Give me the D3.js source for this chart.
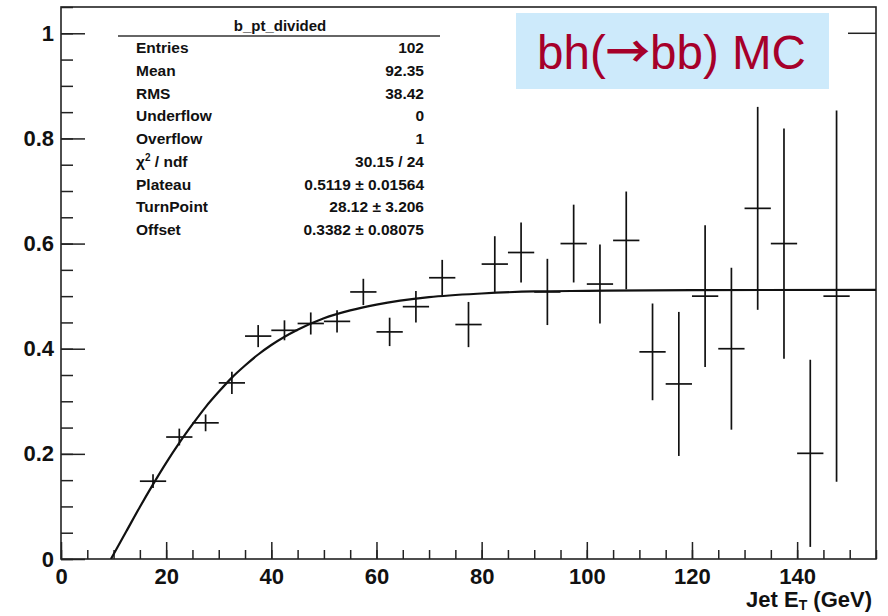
<!DOCTYPE html>
<html>
<head>
<meta charset="utf-8">
<script src="https://cdn.jsdelivr.net/npm/d3@7"></script>
<style>
  html, body { margin: 0; padding: 0; background: #fff; }
  svg { display: block; font-family: "Liberation Sans", Arial, sans-serif; }
</style>
</head>
<body>
<svg id="chart" width="888" height="616"></svg>
<script>
// ---- data ----
const binCenters = [17.5, 22.5, 27.5, 32.5, 37.5, 42.5, 47.5, 52.5, 57.5, 62.5, 67.5, 72.5, 77.5, 82.5, 87.5, 92.5, 97.5, 102.5, 107.5, 112.5, 117.5, 122.5, 127.5, 132.5, 137.5, 142.5, 147.5];
const efficiency = [0.148, 0.232, 0.259, 0.335, 0.424, 0.435, 0.448, 0.452, 0.508, 0.432, 0.480, 0.535, 0.446, 0.561, 0.583, 0.508, 0.600, 0.523, 0.606, 0.394, 0.333, 0.500, 0.400, 0.667, 0.600, 0.201, 0.500];
const effError = [0.013, 0.016, 0.016, 0.021, 0.021, 0.019, 0.021, 0.021, 0.025, 0.027, 0.030, 0.034, 0.043, 0.053, 0.057, 0.063, 0.074, 0.075, 0.093, 0.092, 0.137, 0.135, 0.154, 0.193, 0.219, 0.178, 0.353];
const binHalfWidth = 2.5;

// fit curve
const fitX = [9.5, 10, 12.5, 15, 17.5, 20, 22.5, 25, 27.5, 30, 32.5, 35, 37.5, 40, 45, 50, 55, 60, 70, 80, 90, 100, 120, 155];
const fitY = [0.0, 0.009, 0.054, 0.099, 0.142, 0.183, 0.221, 0.256, 0.289, 0.318, 0.345, 0.368, 0.389, 0.407, 0.436, 0.458, 0.473, 0.484, 0.498, 0.505, 0.509, 0.510, 0.5115, 0.5119];

const xMajorTicks = [0, 20, 40, 60, 80, 100, 120, 140];
const xMinorTicks = d3.range(0, 156, 5);
const yMajorTicks = [0, 0.2, 0.4, 0.6, 0.8, 1];
const yMinorTicks = d3.range(0, 1.051, 0.05);

const statsTitle = "b_pt_divided";
const statsLabels = ["Entries", "Mean", "RMS", "Underflow", "Overflow", "χ2 / ndf", "Plateau", "TurnPoint", "Offset"];
const statsValues = ["102", "92.35", "38.42", "0", "1", "30.15 / 24", "0.5119 ± 0.01564", "28.12 ± 3.206", "0.3382 ± 0.08075"];

const xTitle = ["Jet E", "T", " (GeV)"];
const sampleLabel = ["bh(", "→", "bb) MC"];

// ---- layout ----
const svg = d3.select("#chart");
const L = 61, T = 7, R = 876, B = 559;
const x = d3.scaleLinear().domain([0, 155]).range([L, R]);
const y = d3.scaleLinear().domain([0, 1.05]).range([B, T]);

svg.append("defs").append("clipPath").attr("id", "clip")
  .append("rect").attr("x", L).attr("y", T).attr("width", R - L).attr("height", B - T);

// minor ticks
const gx = svg.append("g").attr("transform", `translate(0,${B})`);
gx.call(d3.axisBottom(x).tickValues(xMinorTicks).tickSize(-9).tickFormat(""));
gx.select(".domain").remove();
const gx2 = svg.append("g").attr("transform", `translate(0,${B})`);
gx2.call(d3.axisBottom(x).tickValues(xMajorTicks).tickSizeInner(-17).tickSizeOuter(0).tickPadding(9).tickFormat(d3.format("~g")));
gx2.select(".domain").remove();

const gy = svg.append("g").attr("transform", `translate(${L},0)`);
gy.call(d3.axisLeft(y).tickValues(yMinorTicks).tickSize(-12).tickFormat(""));
gy.select(".domain").remove();
const gy2 = svg.append("g").attr("transform", `translate(${L},0)`);
gy2.call(d3.axisLeft(y).tickValues(yMajorTicks).tickSizeInner(-24).tickSizeOuter(0).tickPadding(7).tickFormat(d3.format("~g")));
gy2.select(".domain").remove();

svg.selectAll(".tick line").attr("stroke", "#222").attr("stroke-width", 1.5);
svg.selectAll(".tick text").attr("font-family", "'Liberation Sans', Arial, sans-serif")
  .attr("font-weight", "bold").attr("font-size", 22).attr("fill", "#111");

// right-side tick at y = 1
svg.append("line").attr("x1", R - 28).attr("x2", R).attr("y1", y(1)).attr("y2", y(1))
  .attr("stroke", "#222").attr("stroke-width", 1.5);

// frame
svg.append("rect").attr("x", L).attr("y", T).attr("width", R - L).attr("height", B - T)
  .attr("fill", "none").attr("stroke", "#222").attr("stroke-width", 1.6);

// stats box
const sb = svg.append("g");
sb.append("text").attr("x", 280).attr("y", 31).attr("text-anchor", "middle")
  .attr("font-size", 15).attr("font-weight", "bold").attr("fill", "#111").text(statsTitle);
sb.append("line").attr("x1", 118).attr("x2", 440).attr("y1", 36).attr("y2", 36)
  .attr("stroke", "#333").attr("stroke-width", 1.4);
statsLabels.forEach((lab, i) => {
  const yy = 53 + i * 22.75;
  const t = sb.append("text").attr("x", 136).attr("y", yy)
    .attr("font-size", 15.5).attr("font-weight", "bold").attr("fill", "#111");
  if (lab.startsWith("χ2")) {
    t.append("tspan").text("χ");
    t.append("tspan").attr("dy", -6).attr("font-size", 10).text("2");
    t.append("tspan").attr("dy", 6).text(" / ndf");
  } else {
    t.text(lab);
  }
  sb.append("text").attr("x", 424).attr("y", yy).attr("text-anchor", "end")
    .attr("font-size", 15.5).attr("font-weight", "bold").attr("fill", "#111").text(statsValues[i]);
});

// error bars (data)
const pts = binCenters.map((c, i) => ({ c, v: efficiency[i], e: effError[i] }));
const marks = svg.append("g").attr("clip-path", "url(#clip)")
  .attr("stroke", "#111").attr("stroke-width", 1.7).attr("fill", "none");
marks.selectAll("line.h").data(pts).join("line").attr("class", "h")
  .attr("x1", d => x(d.c - binHalfWidth)).attr("x2", d => x(d.c + binHalfWidth))
  .attr("y1", d => y(d.v)).attr("y2", d => y(d.v));
marks.selectAll("line.v").data(pts).join("line").attr("class", "v")
  .attr("x1", d => x(d.c)).attr("x2", d => x(d.c))
  .attr("y1", d => y(d.v - d.e)).attr("y2", d => y(d.v + d.e));

// fit curve
const fitPts = fitX.map((v, i) => [v, fitY[i]]);
svg.append("path").attr("clip-path", "url(#clip)")
  .datum(fitPts)
  .attr("d", d3.line().x(d => x(d[0])).y(d => y(d[1])).curve(d3.curveMonotoneX))
  .attr("fill", "none").attr("stroke", "#111").attr("stroke-width", 2.2);

// axis title
const xt = svg.append("text").attr("x", 872).attr("y", 607).attr("text-anchor", "end")
  .attr("font-size", 22).attr("font-weight", "bold").attr("fill", "#111");
xt.append("tspan").text(xTitle[0]);
xt.append("tspan").attr("dy", 3).attr("font-size", 14).text(xTitle[1]);
xt.append("tspan").attr("dy", -3).text(xTitle[2]);

// sample label box
svg.append("rect").attr("x", 516).attr("y", 13).attr("width", 313).attr("height", 76).attr("fill", "#cdeafb");
const lbl = svg.append("text").attr("x", 537).attr("y", 69)
  .attr("font-family", "'Liberation Sans', Arial, sans-serif")
  .attr("font-size", 43).attr("fill", "#a6002a");
lbl.append("tspan").text(sampleLabel[0]);
lbl.append("tspan").attr("font-family", "'Noto Sans CJK SC', 'DejaVu Sans', sans-serif")
  .attr("font-weight", "bold").attr("font-size", 40).attr("dy", -1).text(sampleLabel[1]);
lbl.append("tspan").attr("dy", 1).text(sampleLabel[2]);
const w = lbl.node().getComputedTextLength();
if (w > 0) {
  const k = 269 / w;
  lbl.attr("font-size", 43 * k);
  lbl.select("tspan:nth-child(2)").attr("font-size", 40 * k);
}
</script>
</body>
</html>
